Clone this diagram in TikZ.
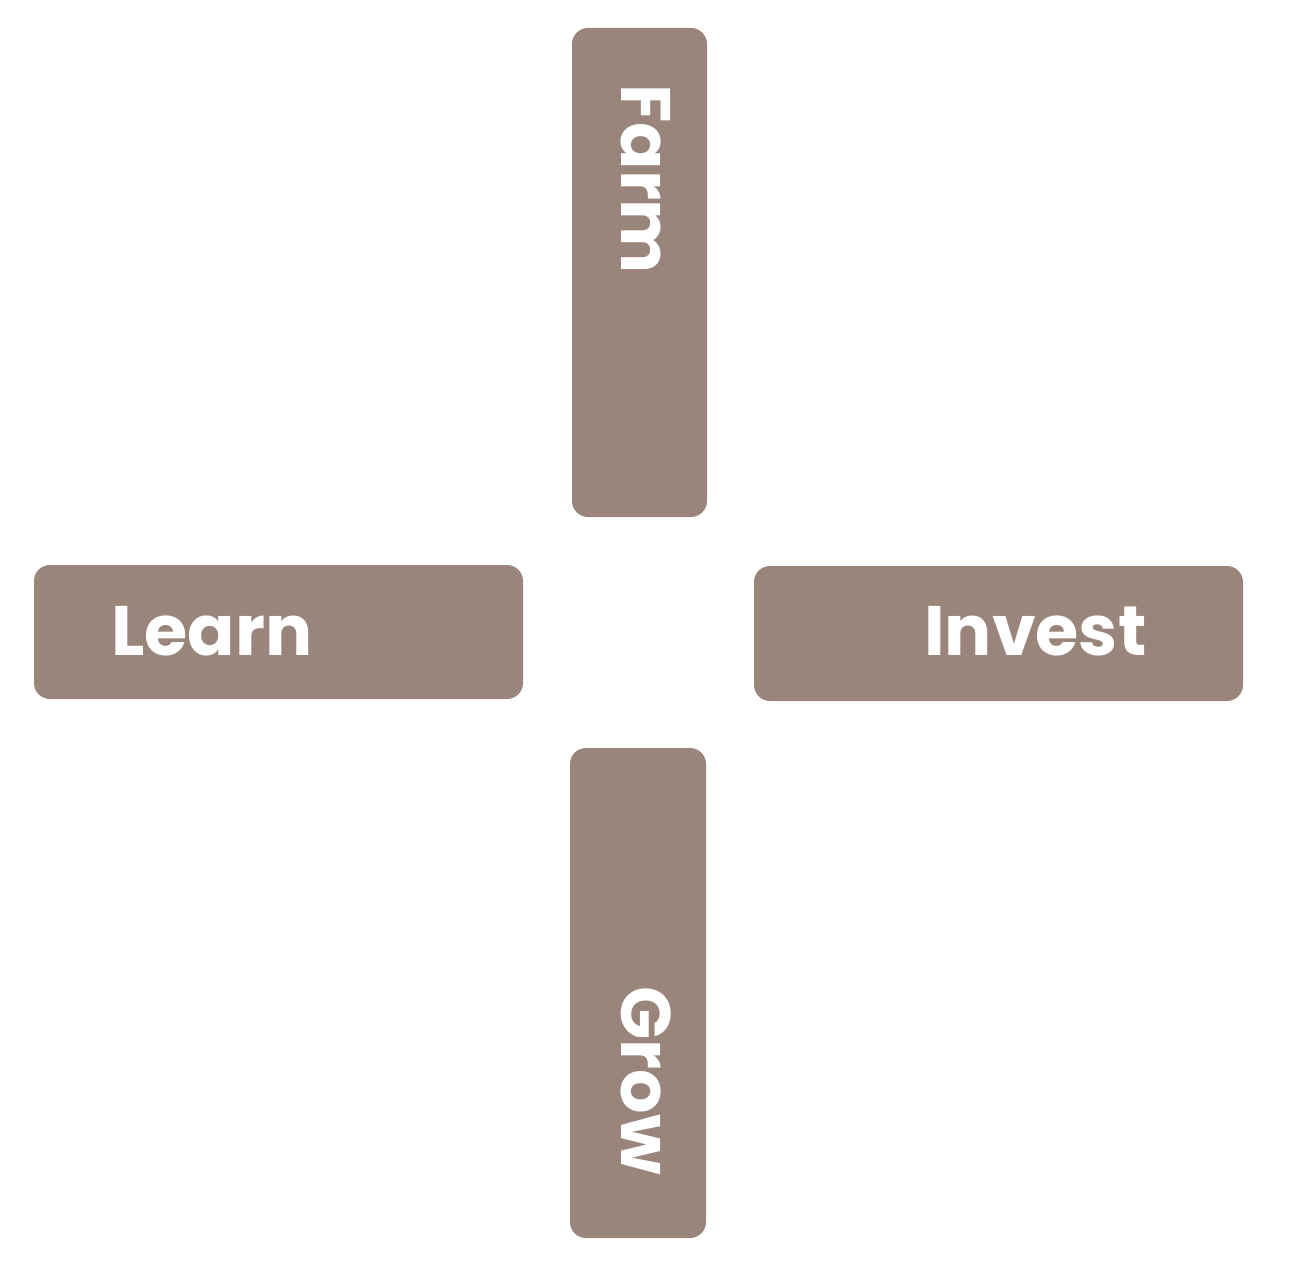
\documentclass[tikz,border=0pt]{standalone}
\usepackage{fontspec}
\setmainfont{Poppins}
\usepackage{tikz}
\definecolor{tilebrown}{RGB}{153,133,122}

\begin{document}
\begin{tikzpicture}[x=1pt,y=-1pt,
  tile/.style={fill=tilebrown,draw=none,rounded corners=16pt,inner sep=0pt},
  tiletext/.style={text=white,inner sep=0pt,font=\fontsize{70}{76}\selectfont\bfseries}]

 \useasboundingbox (0,0) rectangle (1296,1271);
 % the four tiles
 \node[tile,minimum width=135,minimum height=489] (farm)   at (639.5,272.5) {};
 \node[tile,minimum width=489,minimum height=134] (learn)  at (278.5,632)   {};
 \node[tile,minimum width=489,minimum height=135] (invest) at (998.5,633.5) {};
 \node[tile,minimum width=136,minimum height=490] (grow)   at (638,993)     {};
 % labels
 \node[tiletext,rotate=-90,anchor=base west] (farmtxt) at (621,84) {Farm};
 \node[tiletext,anchor=base west] (learntxt) at (111,655) {Learn};
 \node[tiletext,anchor=base west] (investtxt) at (924,655) {Invest};
 \node[tiletext,rotate=-90,anchor=base west] (growtxt) at (621,986) {Grow};
\end{tikzpicture}
\end{document}
